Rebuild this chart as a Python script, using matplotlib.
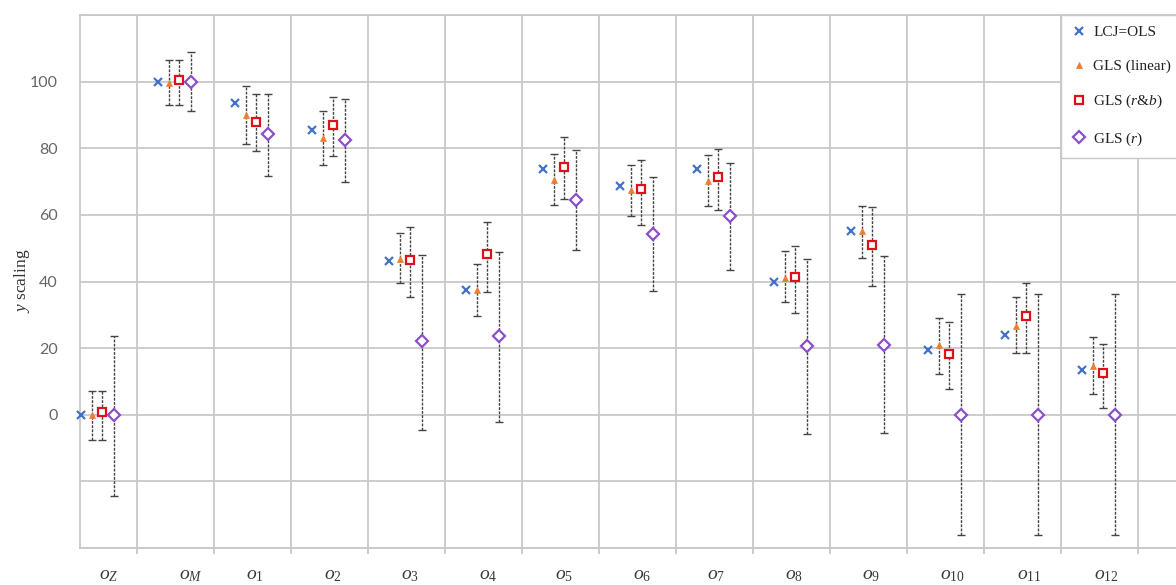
import matplotlib.pyplot as plt
import numpy as np

plt.rcParams['mathtext.fontset'] = 'custom'
plt.rcParams['mathtext.rm'] = 'Liberation Serif'
plt.rcParams['mathtext.it'] = 'Liberation Serif:italic'

# Component names along the x axis
labels = [r'$o_Z$', r'$o_M$', r'$o_1$', r'$o_2$', r'$o_3$', r'$o_4$', r'$o_5$',
          r'$o_6$', r'$o_7$', r'$o_8$', r'$o_9$', r'$o_{10}$', r'$o_{11}$', r'$o_{12}$']

# LCJ=OLS estimates (no intervals)
ols = [0, 100, 93.6, 85.4, 46.2, 37.5, 73.8, 68.6, 73.8, 40.0, 55.3, 19.3, 24.0, 13.5]

# GLS (linear): estimate, lower and upper bound
gls_lin = [0, 99.6, 90.1, 83.1, 46.8, 37.5, 70.6, 67.6, 70.1, 41.2, 55.1, 20.8, 26.5, 14.5]
gls_lin_lo = [-7.5, 93, 81.4, 75.1, 39.5, 29.5, 63.1, 59.8, 62.6, 33.7, 47.1, 12.3, 18.5, 6.2]
gls_lin_hi = [7.2, 106.5, 98.8, 91.1, 54.7, 45.3, 78.4, 75.1, 78.1, 49.3, 62.8, 29.0, 35.2, 23.3]

# GLS (r&b)
gls_rb = [0.8, 100.4, 87.9, 87.1, 46.5, 48.3, 74.3, 67.8, 71.4, 41.3, 51.1, 18.2, 29.7, 12.5]
gls_rb_lo = [-7.5, 93, 79.1, 77.6, 35.2, 36.7, 64.9, 57.0, 61.4, 30.5, 38.7, 7.7, 18.5, 2.0]
gls_rb_hi = [7.2, 106.5, 96.3, 95.4, 56.4, 58.0, 83.3, 76.4, 79.8, 50.8, 62.3, 27.7, 39.5, 21.2]

# GLS (r)
gls_r = [0, 100, 84.2, 82.4, 22.0, 23.5, 64.4, 54.4, 59.6, 20.5, 21.0, 0, 0, 0]
gls_r_lo = [-24.3, 91.3, 71.8, 69.8, -4.7, -2.3, 49.5, 37.0, 43.5, -5.8, -5.5, -36.2, -36.2, -36.2]
gls_r_hi = [23.7, 108.8, 96.3, 94.9, 48.0, 48.8, 79.4, 71.3, 75.6, 46.8, 47.7, 36.2, 36.2, 36.2]

k = np.arange(len(labels))
label_x = k + np.array([0.36, 0.42, 0.26, 0.27, 0.27, 0.29, 0.27,
                        0.29, 0.25, 0.26, 0.26, 0.32, 0.31, 0.32])

fig = plt.figure(figsize=(11.76, 5.85), dpi=100)
ax = fig.add_axes([80 / 1176, 1 - 548 / 585, 1096 / 1176, 533 / 585])

grid_c = '#c8c8c8'
ax.set_xlim(-0.015, 14.22)
ax.set_ylim(-40, 120)
ax.set_yticks(np.arange(-40, 121, 20))
ax.set_yticklabels(['', '', '0', '20', '40', '60', '80', '100', ''])
ax.set_xticks(k + 0.73)
ax.set_xticklabels([])
ax.grid(True, color=grid_c, lw=1.3)
ax.tick_params(axis='x', length=4, color=grid_c, width=1.3)
ax.tick_params(axis='y', length=0, pad=16, labelsize=11.5, labelcolor='#666666')
for lbl in ax.get_yticklabels():
    lbl.set_family('Lato')
for side in ['left', 'bottom', 'top']:
    ax.spines[side].set_color(grid_c)
    ax.spines[side].set_linewidth(1.3)
ax.spines['right'].set_visible(False)

bar_c = '#444444'


def bars(x, v, lo, hi):
    v = np.array(v)
    err = [v - np.array(lo), np.array(hi) - v]
    _, caps, cols = ax.errorbar(x, v, yerr=err, fmt='none', ecolor=bar_c,
                                elinewidth=1.0, capsize=3, capthick=1.0, zorder=3)
    cols[0].set_linestyle((0, (2, 1)))


bars(k + 0.145, gls_lin, gls_lin_lo, gls_lin_hi)
bars(k + 0.27, gls_rb, gls_rb_lo, gls_rb_hi)
bars(k + 0.43, gls_r, gls_r_lo, gls_r_hi)

ax.plot(k, ols, 'x', color='#4472C4', ms=5.5, mew=1.6, zorder=4, clip_on=False,
        label='LCJ=OLS')
ax.plot(k + 0.145, gls_lin, '^', color='#ED7D31', ms=5, mew=0.5, zorder=4,
        label='GLS (linear)')
ax.plot(k + 0.27, gls_rb, 's', mfc='white', mec='#E0101A', ms=5.5, mew=1.6,
        zorder=4, label=r'GLS ($r$&$b$)')
ax.plot(k + 0.43, gls_r, 'D', mfc='white', mec='#8A4FC9', ms=6, mew=1.6,
        zorder=4, label=r'GLS ($r$)')

for x, t in zip(label_x, labels):
    ax.text(x, -48, t, ha='center', va='center', fontsize=14, color='#3a3a3a',
            clip_on=False)

fig.text(22 / 1176, 1 - 281 / 585, r'$y$ scaling', rotation=90, ha='center',
         va='center', fontsize=12.5, family='Liberation Serif', color='#333333')

leg = ax.legend(loc='upper left', bbox_to_anchor=(1061 / 1176, 1 - 15 / 585),
                bbox_transform=fig.transFigure, borderaxespad=0, fancybox=False,
                frameon=True, edgecolor=grid_c, framealpha=1,
                prop={'family': 'Liberation Serif', 'size': 11},
                labelspacing=1.3, handlelength=0.9, handletextpad=0.5,
                borderpad=0.7)
for t in leg.get_texts():
    t.set_color('#222222')

fig.savefig('out.png', dpi=100)
